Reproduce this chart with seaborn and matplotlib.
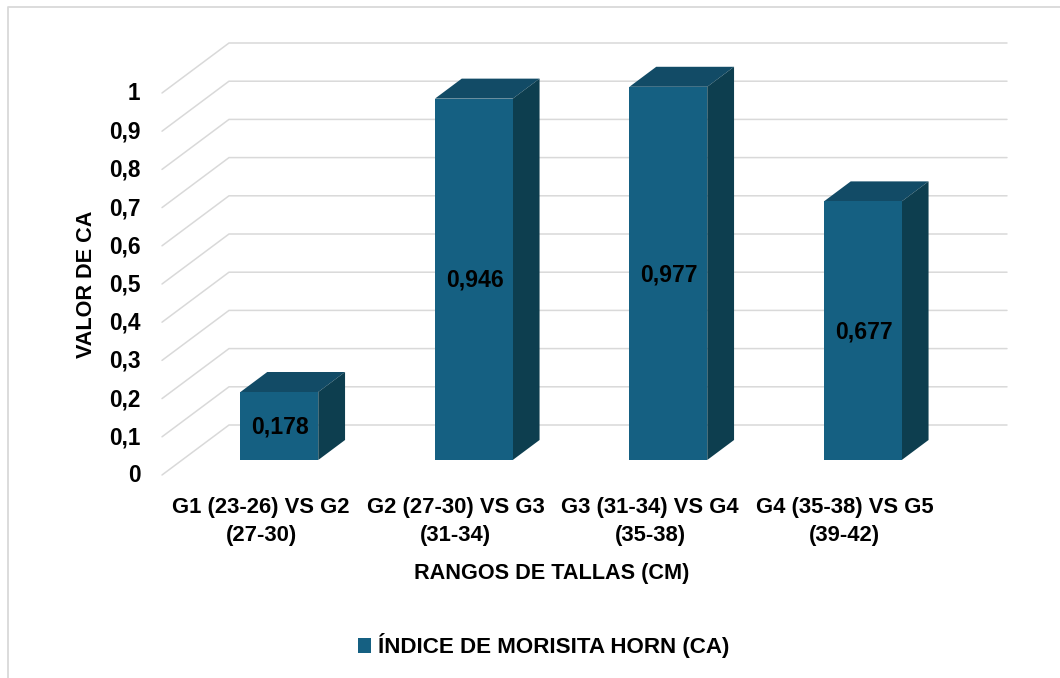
import matplotlib
matplotlib.use("Agg")
import matplotlib.pyplot as plt
from matplotlib.lines import Line2D
import numpy as np
import pandas as pd
import seaborn as sns

categories = ["G1 (23-26) VS G2\n(27-30)", "G2 (27-30) VS G3\n(31-34)",
              "G3 (31-34) VS G4\n(35-38)", "G4 (35-38) VS G5\n(39-42)"]
values = [0.178, 0.946, 0.977, 0.677]
y_ticks = [0, 0.1, 0.2, 0.3, 0.4, 0.5, 0.6, 0.7, 0.8, 0.9, 1]
y_labels = ["0", "0,1", "0,2", "0,3", "0,4", "0,5", "0,6", "0,7", "0,8", "0,9", "1"]
series_name = "ÍNDICE DE MORISITA HORN (CA)"
x_title = "RANGOS DE TALLAS (CM)"
y_title = "VALOR DE CA"

FRONT = "#156082"
TOP = "#124B66"
SIDE = "#0D3E4F"
GRID = "#D9D9D9"
W, H = 1060, 678

sns.set_theme(style="white")
plt.rcParams["font.family"] = ["Liberation Sans", "DejaVu Sans"]
plt.rcParams["font.weight"] = "bold"

fig = plt.figure(figsize=(W / 100, H / 100), dpi=100, facecolor="white")
L, R, T, B = 162, 1007, 43, 475
ax = fig.add_axes([L / W, 1 - B / H, (R - L) / W, (B - T) / H])
ax.patch.set_alpha(0)

# Oblique projection of the 3D floor: depth in category / value units
DX = 67 / 194.5
DY = 50 / 382
PLANE = 0.3      # bars start at this fraction of the floor depth
BAR_DEPTH = 0.4

df = pd.DataFrame({"cat": categories, "val": values, "serie": series_name})
sns.barplot(data=df, x="cat", y="val", hue="serie", palette=[FRONT], width=0.4,
            saturation=1, ax=ax, zorder=3, dodge=False, linewidth=0)

x0 = -0.5 - PLANE * DX
ax.set_xlim(x0, x0 + DX + 4)
ax.set_ylim(-PLANE * DY, 1 + (1 - PLANE) * DY)

# gridlines: floor diagonal + back wall
for v in y_ticks:
    ax.plot([x0, x0 + DX, x0 + DX + 4],
            [v - PLANE * DY, v + (1 - PLANE) * DY, v + (1 - PLANE) * DY],
            color=GRID, lw=1.1, zorder=1, clip_on=False, solid_joinstyle="miter")

# top and side faces of each bar, derived from the drawn bars
container = ax.containers[0]
d_x, d_y = BAR_DEPTH * DX, BAR_DEPTH * DY
for bar in container:
    xa, xb, v = bar.get_x(), bar.get_x() + bar.get_width(), bar.get_height()
    ax.fill([xa, xa + d_x, xb + d_x, xb], [v, v + d_y, v + d_y, v],
            color=TOP, lw=0, zorder=2.5)
    ax.fill([xb, xb + d_x, xb + d_x, xb], [0, d_y, v + d_y, v],
            color=SIDE, lw=0, zorder=2.5)

data_labels = ax.bar_label(container, labels=[f"{v:.3f}".replace(".", ",") for v in values],
                           label_type="center", fontsize=16.6, fontweight="bold",
                           color="black", zorder=5)
for t in data_labels:
    t.xyann = (0.5, -0.8)

for s in ax.spines.values():
    s.set_visible(False)

ax.set_yticks([v - PLANE * DY + 1.5 / 382 for v in y_ticks], y_labels)
ax.set_xticks([i - PLANE * DX + 2 / 194.5 for i in range(len(categories))], categories)
ax.tick_params(axis="y", length=0, pad=15.5, labelsize=16.3, labelcolor="black")
ax.tick_params(axis="x", length=0, pad=16, labelsize=15.8, labelcolor="black")
for t in ax.get_xticklabels():
    t.set_linespacing(1.42)
    t.set_fontweight("bold")
for t in ax.get_yticklabels():
    t.set_fontweight("bold")

ax.set_xlabel("")
ax.set_ylabel("")
fig.text(552 / W, 1 - 573 / H, x_title, ha="center", va="center",
         fontsize=15.6, fontweight="bold", color="black")
fig.text(86.5 / W, 1 - 284 / H, y_title, ha="center", va="center", rotation=90,
         fontsize=15.6, fontweight="bold", color="black")

ax.get_legend().remove() if ax.get_legend() else None
handles, labels = ax.get_legend_handles_labels()
fig.legend(handles, labels, loc="center", bbox_to_anchor=(543.5 / W, 1 - 646 / H),
           frameon=False, handlelength=0.62, handleheight=0.62,
           handletextpad=0.3, prop={"size": 16.1, "weight": "bold"}, labelcolor="black")

# chart frame
fig.add_artist(Line2D([7.5 / W, 7.5 / W, 1], [0, 1 - 7 / H, 1 - 7 / H],
                      color=GRID, lw=1.3, transform=fig.transFigure))

fig.savefig("out.png", dpi=100, facecolor="white")
